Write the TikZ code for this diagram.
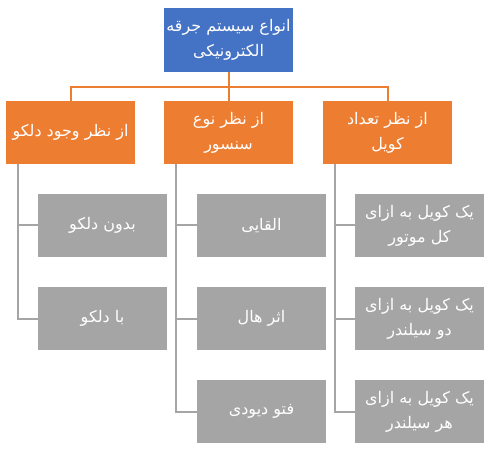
\documentclass[tikz,border=0pt]{standalone}
\usepackage{fontspec}
\newfontfamily\arabicfont[Script=Arabic]{DejaVu Sans}
\TeXXeTstate=1
\definecolor{cblue}{HTML}{4472C4}
\definecolor{corange}{HTML}{ED7D31}
\definecolor{cgray}{HTML}{A5A5A5}
\newcommand{\rl}[1]{\beginR #1\endR}
\begin{document}
\begin{tikzpicture}[x=1pt,y=-1pt,
  box/.style={minimum width=129pt,inner sep=1pt,text=white,align=center,
    font=\arabicfont\fontsize{16}{25}\selectfont},
  topbox/.style={box,fill=cblue,minimum height=64pt},
  catbox/.style={box,fill=corange,minimum height=63pt},
  leafbox/.style={box,fill=cgray,minimum height=63pt},
  oline/.style={draw=corange,line width=2pt},
  gline/.style={draw=cgray,line width=2pt}]
\useasboundingbox (0,0) rectangle (498,449);
\node[topbox] (top) at (228.5,40) {\rl{انواع سیستم جرقه}\\\rl{الکترونیکی}};
\node[catbox] (cL) at (70.5,132.5) {\rl{از نظر وجود دلکو}};
\node[catbox] (cM) at (228.5,132.5) {\rl{از نظر نوع}\\\rl{سنسور}};
\node[catbox] (cR) at (387.5,132.5) {\rl{از نظر تعداد}\\\rl{کویل}};
\node[leafbox] (l1) at (102.5,225.5) {\rl{بدون دلکو}};
\node[leafbox] (l2) at (102.5,318.5) {\rl{با دلکو}};
\node[leafbox] (m1) at (261.5,225.5) {\rl{القایی}};
\node[leafbox] (m2) at (261.5,318.5) {\rl{اثر هال}};
\node[leafbox] (m3) at (261.5,411.5) {\rl{فتو دیودی}};
\node[leafbox] (r1) at (419.5,225.5) {\rl{یک کویل به ازای}\\\rl{کل موتور}};
\node[leafbox] (r2) at (419.5,318.5) {\rl{یک کویل به ازای}\\\rl{دو سیلندر}};
\node[leafbox] (r3) at (419.5,411.5) {\rl{یک کویل به ازای}\\\rl{هر سیلندر}};
\coordinate (bus) at (228.5,87);
\draw[oline] (top.south) -- (bus);
\draw[oline] (bus) -| (cL.north);
\draw[oline] (bus) -| (cR.north);
\draw[oline] (bus) -- (cM.north);
\coordinate (vL) at (18,164);
\coordinate (vM) at (176,164);
\coordinate (vR) at (335,164);
\draw[gline] (vL) |- (l1.west);
\draw[gline] (vL) |- (l2.west);
\draw[gline] (vM) |- (m1.west);
\draw[gline] (vM) |- (m2.west);
\draw[gline] (vM) |- (m3.west);
\draw[gline] (vR) |- (r1.west);
\draw[gline] (vR) |- (r2.west);
\draw[gline] (vR) |- (r3.west);
\end{tikzpicture}
\end{document}
